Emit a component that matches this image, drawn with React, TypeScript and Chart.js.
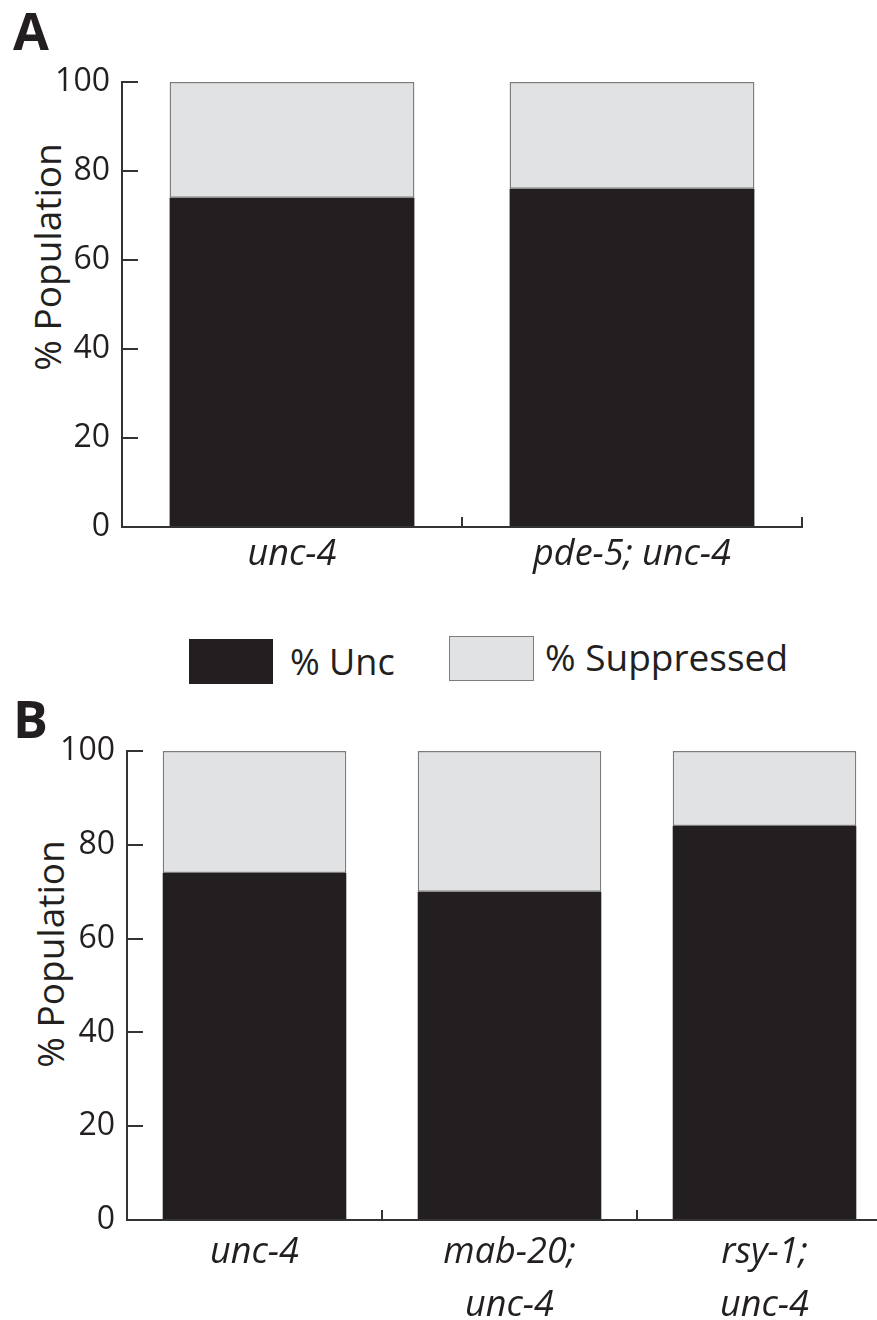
import React, { useEffect, useRef } from 'react';
import { Chart, registerables } from 'chart.js';

Chart.register(...registerables);

const seriesNames = ['% Unc', '% Suppressed'];
const seriesColors = ['#231f20', '#e1e2e4'];
const suppressedBorder = '#7d7d7d';

const categoriesA = ['unc-4', 'pde-5; unc-4'];
const uncA = [74, 76];
const suppressedA = [26, 24];

const categoriesB = [['unc-4'], ['mab-20;', 'unc-4'], ['rsy-1;', 'unc-4']];
const uncB = [74, 70, 84];
const suppressedB = [26, 30, 16];

const yMin = 0;
const yMax = 100;
const yStep = 20;
const yTitle = '% Population';
const panelLetters = ['A', 'B'];

const FONT = "'Open Sans', 'DejaVu Sans', sans-serif";
const AXIS = '#333333';
const TEXT = '#231f20';

type Area = { left: number; right: number; top: number; bottom: number };

function BarPanel(props: {
  labels: any[];
  unc: number[];
  sup: number[];
  x: number;
  y: number;
  w: number;
  h: number;
  area: Area;
  labelLineHeight: number;
}) {
  const ref = useRef<HTMLCanvasElement | null>(null);
  const { labels, unc, sup, x, y, w, h, area, labelLineHeight } = props;
  useEffect(() => {
    if (!ref.current) return;
    const chart = new Chart(ref.current, {
      type: 'bar',
      data: {
        labels,
        datasets: [
          {
            label: seriesNames[0],
            data: unc,
            backgroundColor: seriesColors[0],
            borderWidth: 0,
            barPercentage: 0.72,
            categoryPercentage: 1,
          },
          {
            label: seriesNames[1],
            data: sup,
            backgroundColor: seriesColors[1],
            borderColor: suppressedBorder,
            borderWidth: 1.5,
            borderSkipped: false,
            barPercentage: 0.72,
            categoryPercentage: 1,
          },
        ],
      },
      options: {
        responsive: false,
        animation: false,
        devicePixelRatio: 1,
        layout: { padding: { left: 0, top: area.top, right: w - area.right, bottom: 0 } },
        plugins: { legend: { display: false }, tooltip: { enabled: false } },
        scales: {
          x: {
            stacked: true,
            afterFit: (s: any) => {
              s.height = h - area.bottom;
              s.paddingLeft = 0;
              s.paddingRight = 0;
              s.paddingTop = 0;
              s.paddingBottom = 0;
            },
            grid: {
              display: true,
              drawOnChartArea: false,
              drawTicks: true,
              tickLength: -10,
              color: AXIS,
              lineWidth: 2,
              offset: true,
            },
            border: { display: true, color: AXIS, width: 2 },
            ticks: {
              color: TEXT,
              padding: 16,
              maxRotation: 0,
              autoSkip: false,
              font: { family: FONT, size: 36, style: 'italic', lineHeight: labelLineHeight },
            },
          },
          y: {
            stacked: true,
            min: yMin,
            max: yMax,
            afterFit: (s: any) => {
              s.width = area.left;
              s.paddingTop = 0;
              s.paddingBottom = 0;
              s.paddingLeft = 0;
              s.paddingRight = 0;
            },
            grid: {
              display: true,
              drawOnChartArea: false,
              drawTicks: true,
              tickLength: -16,
              color: AXIS,
              lineWidth: 2,
            },
            border: { display: true, color: AXIS, width: 2 },
            ticks: {
              stepSize: yStep,
              color: TEXT,
              padding: 28,
              font: { family: FONT, size: 32 },
            },
            title: { display: false },
          },
        },
      },
    } as any);
    return () => chart.destroy();
  }, []);
  return (
    <canvas
      ref={ref}
      width={w}
      height={h}
      style={{ position: 'absolute', left: x, top: y, width: w, height: h }}
    />
  );
}

function YTitle(props: { cx: number; cy: number }) {
  return (
    <div
      style={{
        position: 'absolute',
        left: props.cx,
        top: props.cy,
        transform: 'translate(-50%, -50%) rotate(-90deg)',
        whiteSpace: 'nowrap',
        fontFamily: FONT,
        fontSize: 37,
        lineHeight: '40px',
        color: TEXT,
      }}
    >
      {yTitle}
    </div>
  );
}

function Letter(props: { text: string; x: number; y: number }) {
  return (
    <div
      style={{
        position: 'absolute',
        left: props.x,
        top: props.y,
        fontFamily: FONT,
        fontWeight: 700,
        fontSize: 52,
        lineHeight: '52px',
        color: TEXT,
      }}
    >
      {props.text}
    </div>
  );
}

export default function App() {
  return (
    <div
      style={{
        position: 'absolute',
        left: 0,
        top: 0,
        width: 877,
        height: 1320,
        overflow: 'hidden',
        background: '#ffffff',
      }}
    >
      <Letter text={panelLetters[0]} x={13} y={4} />
      <YTitle cx={47} cy={257} />
      <BarPanel
        labels={categoriesA}
        unc={uncA}
        sup={suppressedA}
        x={0}
        y={60}
        w={877}
        h={540}
        area={{ left: 122, right: 802, top: 22, bottom: 467 }}
        labelLineHeight={1.2}
      />

      <div style={{ position: 'absolute', left: 189, top: 639, width: 84, height: 45, background: seriesColors[0] }} />
      <div
        style={{
          position: 'absolute',
          left: 290,
          top: 640,
          fontFamily: FONT,
          fontSize: 36,
          lineHeight: '44px',
          color: TEXT,
          whiteSpace: 'nowrap',
        }}
      >
        {seriesNames[0]}
      </div>
      <div
        style={{
          position: 'absolute',
          left: 449,
          top: 636,
          width: 83,
          height: 43,
          background: seriesColors[1],
          border: '1px solid ' + suppressedBorder,
        }}
      />
      <div
        style={{
          position: 'absolute',
          left: 545,
          top: 635,
          fontFamily: FONT,
          fontSize: 37,
          lineHeight: '44px',
          color: TEXT,
          whiteSpace: 'nowrap',
        }}
      >
        {seriesNames[1]}
      </div>

      <Letter text={panelLetters[1]} x={13} y={692} />
      <YTitle cx={50} cy={954} />
      <BarPanel
        labels={categoriesB}
        unc={uncB}
        sup={suppressedB}
        x={0}
        y={730}
        w={910}
        h={590}
        area={{ left: 127, right: 892, top: 21, bottom: 490 }}
        labelLineHeight={1.47}
      />
    </div>
  );
}
